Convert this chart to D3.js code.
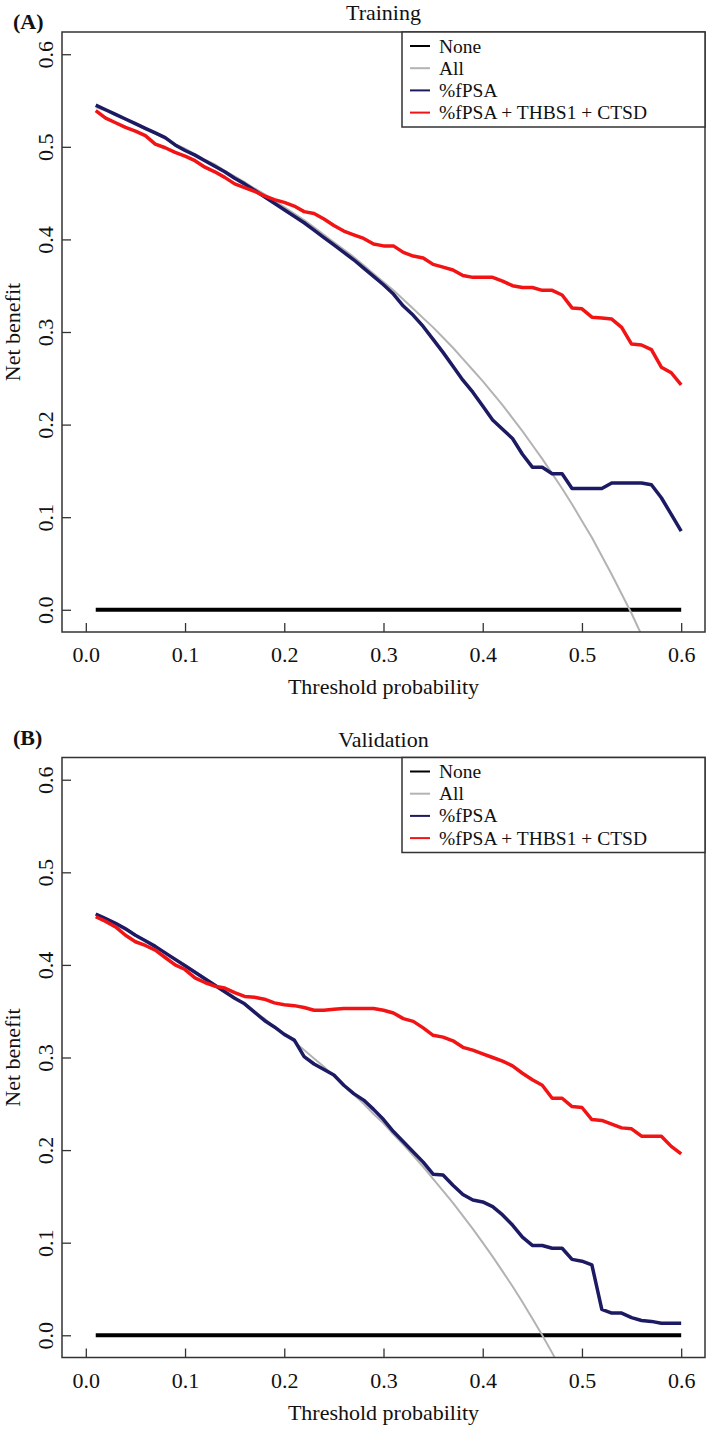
<!DOCTYPE html>
<html>
<head>
<meta charset="utf-8">
<script src="https://cdn.jsdelivr.net/npm/d3@7"></script>
<style>
  body { margin: 0; background: #fff; }
  svg { display: block; font-family: "Liberation Serif", "Times New Roman", serif; }
  svg text { font-family: "Liberation Serif", "Times New Roman", serif; }
</style>
</head>
<body>
<div id="chart"></div>
<script>
// threshold probabilities (x) shared by every curve
const thresholds = [
  0.01, 0.02, 0.03, 0.04, 0.05, 0.06, 0.07, 0.08, 0.09, 0.10,
  0.11, 0.12, 0.13, 0.14, 0.15, 0.16, 0.17, 0.18, 0.19, 0.20,
  0.21, 0.22, 0.23, 0.24, 0.25, 0.26, 0.27, 0.28, 0.29, 0.30,
  0.31, 0.32, 0.33, 0.34, 0.35, 0.36, 0.37, 0.38, 0.39, 0.40,
  0.41, 0.42, 0.43, 0.44, 0.45, 0.46, 0.47, 0.48, 0.49, 0.50,
  0.51, 0.52, 0.53, 0.54, 0.55, 0.56, 0.57, 0.58, 0.59, 0.60
];

const axisTicks = [0, 0.1, 0.2, 0.3, 0.4, 0.5, 0.6];
const axisTickLabels = ['0.0', '0.1', '0.2', '0.3', '0.4', '0.5', '0.6'];
const seriesNames = ['None', 'All', '%fPSA', '%fPSA + THBS1 + CTSD'];

// Training
const trainingNone = [
  0, 0, 0, 0, 0, 0, 0, 0, 0, 0, 0, 0, 0, 0, 0, 0, 0, 0, 0, 0,
  0, 0, 0, 0, 0, 0, 0, 0, 0, 0, 0, 0, 0, 0, 0, 0, 0, 0, 0, 0,
  0, 0, 0, 0, 0, 0, 0, 0, 0, 0, 0, 0, 0, 0, 0, 0, 0, 0, 0, 0
];
const trainingAll = [
  0.543, 0.539, 0.534, 0.529, 0.524, 0.519, 0.514, 0.509, 0.503, 0.498,
  0.492, 0.486, 0.481, 0.474, 0.468, 0.462, 0.455, 0.449, 0.442, 0.435,
  0.428, 0.421, 0.413, 0.405, 0.397, 0.389, 0.381, 0.372, 0.363, 0.354,
  0.345, 0.335, 0.325, 0.315, 0.305, 0.294, 0.283, 0.271, 0.259, 0.247,
  0.234, 0.221, 0.207, 0.193, 0.178, 0.163, 0.147, 0.131, 0.114, 0.096,
  0.078, 0.058, 0.038, 0.017, -0.004, -0.027, -0.051, -0.076, -0.102, -0.130
];
const trainingFpsa = [
  0.545, 0.540, 0.535, 0.530, 0.525, 0.520, 0.515, 0.510, 0.502, 0.496,
  0.491, 0.485, 0.479, 0.473, 0.466, 0.460, 0.453, 0.446, 0.439, 0.432,
  0.425, 0.418, 0.410, 0.402, 0.394, 0.386, 0.378, 0.369, 0.360, 0.351,
  0.341, 0.328, 0.318, 0.306, 0.292, 0.278, 0.263, 0.248, 0.235, 0.220,
  0.205, 0.195, 0.185, 0.168, 0.154, 0.154, 0.147, 0.147, 0.131, 0.131,
  0.131, 0.131, 0.137, 0.137, 0.137, 0.137, 0.135, 0.121, 0.103, 0.085
];
const trainingCombo = [
  0.539, 0.531, 0.526, 0.521, 0.517, 0.512, 0.503, 0.499, 0.494, 0.490,
  0.485, 0.478, 0.473, 0.467, 0.460, 0.456, 0.452, 0.447, 0.443, 0.440,
  0.436, 0.430, 0.428, 0.422, 0.415, 0.409, 0.405, 0.401, 0.395, 0.393,
  0.393, 0.386, 0.382, 0.380, 0.373, 0.370, 0.367, 0.361, 0.359, 0.359,
  0.359, 0.355, 0.350, 0.348, 0.348, 0.345, 0.345, 0.340, 0.326, 0.325,
  0.316, 0.315, 0.314, 0.305, 0.287, 0.286, 0.281, 0.262, 0.256, 0.243
];

// Validation
const validationNone = [
  0, 0, 0, 0, 0, 0, 0, 0, 0, 0, 0, 0, 0, 0, 0, 0, 0, 0, 0, 0,
  0, 0, 0, 0, 0, 0, 0, 0, 0, 0, 0, 0, 0, 0, 0, 0, 0, 0, 0, 0,
  0, 0, 0, 0, 0, 0, 0, 0, 0, 0, 0, 0, 0, 0, 0, 0, 0, 0, 0, 0
];
const validationAll = [
  0.455, 0.449, 0.443, 0.438, 0.432, 0.426, 0.419, 0.413, 0.407, 0.400,
  0.393, 0.386, 0.379, 0.372, 0.365, 0.357, 0.349, 0.342, 0.333, 0.325,
  0.317, 0.308, 0.299, 0.290, 0.280, 0.270, 0.260, 0.250, 0.239, 0.229,
  0.217, 0.206, 0.194, 0.182, 0.169, 0.156, 0.143, 0.129, 0.115, 0.100,
  0.085, 0.069, 0.053, 0.036, 0.018, 0.000, -0.019, -0.039, -0.059, -0.080,
  -0.102, -0.125, -0.149, -0.174, -0.200, -0.227, -0.256, -0.286, -0.317, -0.350
];
const validationFpsa = [
  0.455, 0.450, 0.445, 0.439, 0.432, 0.426, 0.420, 0.413, 0.406, 0.399,
  0.392, 0.385, 0.378, 0.371, 0.364, 0.358, 0.349, 0.340, 0.333, 0.325,
  0.319, 0.301, 0.293, 0.287, 0.281, 0.270, 0.261, 0.254, 0.244, 0.233,
  0.220, 0.209, 0.198, 0.187, 0.174, 0.173, 0.162, 0.152, 0.146, 0.144,
  0.139, 0.130, 0.119, 0.106, 0.097, 0.097, 0.094, 0.094, 0.082, 0.080,
  0.076, 0.028, 0.024, 0.024, 0.019, 0.016, 0.015, 0.013, 0.013, 0.013
];
const validationCombo = [
  0.452, 0.447, 0.441, 0.432, 0.425, 0.421, 0.416, 0.408, 0.400, 0.395,
  0.386, 0.381, 0.377, 0.375, 0.370, 0.366, 0.365, 0.363, 0.359, 0.357,
  0.356, 0.354, 0.351, 0.351, 0.352, 0.353, 0.353, 0.353, 0.353, 0.351,
  0.348, 0.342, 0.339, 0.332, 0.324, 0.322, 0.318, 0.311, 0.308, 0.304,
  0.300, 0.296, 0.291, 0.283, 0.276, 0.270, 0.256, 0.256, 0.247, 0.246,
  0.233, 0.232, 0.228, 0.224, 0.223, 0.215, 0.215, 0.215, 0.204, 0.196
];

const W = 709, H = 1432;
const lineColors = ['#000000', '#b3b3b3', '#1c1a63', '#f21414'];
const lineWidths = [4, 2, 3.5, 3.5];
const frameColor = '#333';
const fontSize = '22px';
const legendFontSize = '19.5px';

const svg = d3.select('#chart').append('svg')
  .attr('width', W)
  .attr('height', H);

svg.append('rect').attr('width', W).attr('height', H).attr('fill', '#fff');

const plotLeft = 62, plotRight = 705, plotH = 600;
const x = d3.scaleLinear().domain([-0.024, 0.624]).range([plotLeft, plotRight]);

const panels = [
  { tag: '(A)', title: 'Training', top: 32, titleY: 20, tagY: 29,
    series: [trainingNone, trainingAll, trainingFpsa, trainingCombo] },
  { tag: '(B)', title: 'Validation', top: 757.5, titleY: 747, tagY: 745,
    series: [validationNone, validationAll, validationFpsa, validationCombo] }
];

panels.forEach((p, pi) => {
  const bottom = p.top + plotH;
  const y = d3.scaleLinear().domain([-0.024, 0.624]).range([bottom, p.top]);
  const g = svg.append('g');

  // clip to plot region (the "All" curve runs below the frame)
  const clipId = 'clip-' + pi;
  svg.append('clipPath').attr('id', clipId)
    .append('rect')
    .attr('x', plotLeft).attr('y', p.top)
    .attr('width', plotRight - plotLeft).attr('height', plotH);

  const line = d3.line()
    .x((d, i) => x(thresholds[i]))
    .y(d => y(d));

  const lines = g.append('g').attr('clip-path', `url(#${clipId})`);
  p.series.forEach((vals, si) => {
    lines.append('path')
      .datum(vals)
      .attr('d', line)
      .attr('fill', 'none')
      .attr('stroke', lineColors[si])
      .attr('stroke-width', lineWidths[si])
      .attr('stroke-linejoin', 'round');
  });

  // axes, ticks pointing inward
  const xAxis = d3.axisBottom(x)
    .tickValues(axisTicks)
    .tickFormat((d, i) => axisTickLabels[i])
    .tickSizeInner(-9)
    .tickSizeOuter(0);
  const gx = g.append('g').attr('transform', `translate(0,${bottom})`).call(xAxis)
    .attr('font-family', null).attr('font-size', null);
  gx.select('.domain').remove();
  gx.selectAll('line').attr('stroke', frameColor).attr('stroke-width', 1.3);
  gx.selectAll('text')
    .attr('y', 30).attr('dy', null)
    .attr('fill', '#111')
    .style('font-size', fontSize);

  const yAxis = d3.axisLeft(y)
    .tickValues(axisTicks)
    .tickFormat((d, i) => axisTickLabels[i])
    .tickSizeInner(-9)
    .tickSizeOuter(0);
  const gy = g.append('g').attr('transform', `translate(${plotLeft},0)`).call(yAxis)
    .attr('font-family', null).attr('font-size', null);
  gy.select('.domain').remove();
  gy.selectAll('line').attr('stroke', frameColor).attr('stroke-width', 1.3);
  gy.selectAll('text')
    .attr('x', null).attr('dy', null)
    .attr('transform', 'translate(-9,0) rotate(-90)')
    .attr('text-anchor', 'middle')
    .attr('fill', '#111')
    .style('font-size', fontSize);

  // frame
  g.append('rect')
    .attr('x', plotLeft).attr('y', p.top)
    .attr('width', plotRight - plotLeft).attr('height', plotH)
    .attr('fill', 'none')
    .attr('stroke', frameColor)
    .attr('stroke-width', 1.5);

  // legend
  const lg = g.append('g').attr('transform', `translate(402,${p.top})`);
  lg.append('rect')
    .attr('width', plotRight - 402).attr('height', 95)
    .attr('fill', '#fff')
    .attr('stroke', frameColor)
    .attr('stroke-width', 1.5);
  seriesNames.forEach((name, i) => {
    const cy = 14 + i * 22.2;
    lg.append('line')
      .attr('x1', 8).attr('x2', 28)
      .attr('y1', cy).attr('y2', cy)
      .attr('stroke', lineColors[i])
      .attr('stroke-width', 2);
    lg.append('text')
      .attr('x', 37).attr('y', cy + 6.5)
      .attr('fill', '#111')
      .style('font-size', legendFontSize)
      .text(name);
  });

  // titles and labels
  g.append('text')
    .attr('x', (plotLeft + plotRight) / 2).attr('y', p.titleY)
    .attr('text-anchor', 'middle')
    .attr('fill', '#111')
    .style('font-size', fontSize)
    .text(p.title);

  g.append('text')
    .attr('x', 13).attr('y', p.tagY)
    .attr('fill', '#111')
    .style('font-size', fontSize)
    .style('font-weight', 'bold')
    .text(p.tag);

  g.append('text')
    .attr('x', (plotLeft + plotRight) / 2).attr('y', bottom + 62)
    .attr('text-anchor', 'middle')
    .attr('fill', '#111')
    .style('font-size', fontSize)
    .text('Threshold probability');

  g.append('text')
    .attr('transform', `translate(20,${p.top + plotH / 2}) rotate(-90)`)
    .attr('text-anchor', 'middle')
    .attr('fill', '#111')
    .style('font-size', fontSize)
    .text('Net benefit');
});
</script>
</body>
</html>
